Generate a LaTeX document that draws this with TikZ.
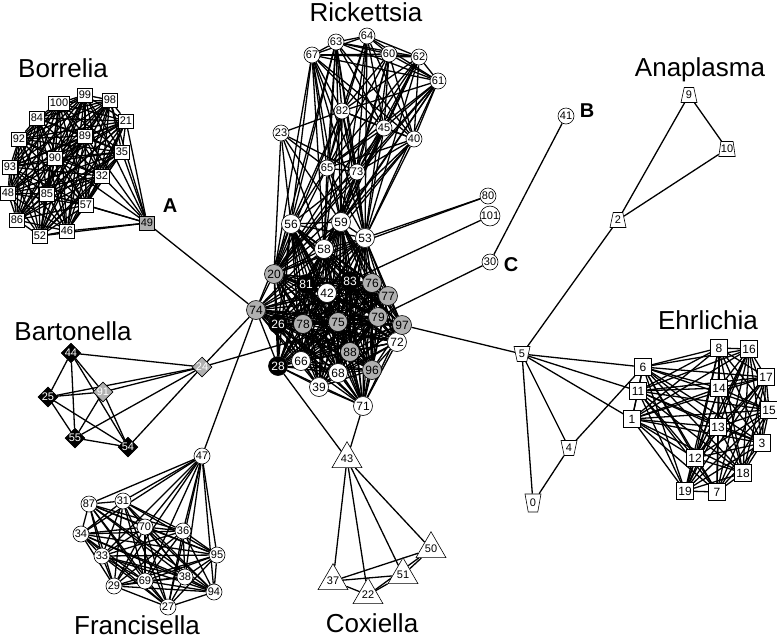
\documentclass[tikz,border=0pt]{standalone}
\usepackage{fontspec}
\setmainfont{Liberation Sans}
\usepackage{tikz}
\definecolor{nodegray}{HTML}{B0B0B0}
\usetikzlibrary{backgrounds, shapes.geometric}

\newcommand{\drawclique}[1]{%
  \foreach \a [count=\i] in #1 {%
    \foreach \b [count=\j] in #1 {%
      \ifnum\j>\i \draw[link] (n\a) -- (n\b);\fi
    }%
  }%
}

\begin{document}
\begin{tikzpicture}[x=1pt, y=-1pt]

  \tikzstyle{nd} = [%
  draw=black,
  line width=0.6pt,
  inner sep=0.5pt,
  font=\fontsize{11}{11}\selectfont,
  ];
  \tikzstyle{sq} = [nd, rectangle, fill=white, minimum width=15pt, minimum height=14pt, inner sep=1.2pt];
  \tikzstyle{cir} = [nd, circle, fill=white, minimum size=16pt, inner sep=0pt];
  \tikzstyle{big} = [cir, minimum size=19pt, font=\fontsize{12}{12}\selectfont];
  \tikzstyle{gry} = [fill=nodegray];
  \tikzstyle{blk} = [fill=black, text=white];
  \tikzstyle{tri} = [nd, regular polygon, regular polygon sides=3, fill=white, minimum size=22pt, inner sep=0pt];
  \tikzstyle{dia} = [nd, diamond, fill=black, text=white, minimum size=19pt, inner sep=0pt];
  \tikzstyle{trap} = [nd, trapezium, trapezium left angle=75, trapezium right angle=75, trapezium stretches=true, fill=white, minimum width=16pt, minimum height=15pt, inner sep=0pt];
  \tikzstyle{trapdown} = [trap, shape border rotate=180];
  \tikzstyle{grp} = [inner sep=0pt, anchor=base, font=\fontsize{26}{26}\selectfont];
  \tikzstyle{tag} = [inner sep=0pt, anchor=base, font=\fontsize{20}{20}\selectfont\bfseries];
  \tikzstyle{link} = [line width=1.3pt];

  \useasboundingbox (0,0) rectangle (777,638);

  % Borrelia
  \foreach \n/\x/\y in {100/59/103, 99/85/95, 98/110/100, 84/37/118, 21/126/121,
    92/19/139, 89/85/136, 35/122/152, 90/55/158, 93/10/167, 32/102/176,
    48/8/193, 85/47/194, 57/86/205, 86/17/220, 46/67/231, 52/40/236}
    \node[sq] (n\n) at (\x,\y) {\n};
  \node[sq, gry] (n49) at (147,223) {49};

  % Rickettsia
  \foreach \n/\x/\y in {64/367/36, 63/336/42, 60/389/54, 62/419/57, 67/312/55,
    61/438/81, 82/342/111, 45/384/128, 23/281/133, 40/414/139, 65/327/168,
    73/357/172}
    \node[cir] (n\n) at (\x,\y) {\n};

  % central group
  \foreach \n/\x/\y in {56/291/224, 59/341/222, 53/365/238, 58/324/249,
    42/327/293, 72/397/342, 66/301/361, 68/338/373, 39/319/387, 71/363/406}
    \node[big] (n\n) at (\x,\y) {\n};
  \foreach \n/\x/\y in {20/274/274, 76/372/283, 77/388/296, 74/256/310,
    79/378/317, 75/338/322, 78/303/324, 97/402/325, 88/350/352, 96/372/370}
    \node[big, gry] (n\n) at (\x,\y) {\n};
  \foreach \n/\x/\y in {81/306/284, 83/350/281, 26/278/324, 28/278/366}
    \node[big, blk] (n\n) at (\x,\y) {\n};

  \foreach \n/\x/\y in {80/488/196, 101/490/216, 30/490/262, 41/566/116}
    \node[cir] (n\n) at (\x,\y) {\n};

  % Anaplasma
  \node[trap] (n9) at (689,95) {9};
  \node[trap] (n10) at (727,149) {10};
  \node[trap] (n2) at (618,220) {2};
  \node[trapdown] (n5) at (522,354) {5};
  \node[trapdown] (n4) at (569,448) {4};
  \node[trapdown, minimum height=18pt] (n0) at (533,503) {0};

  % Ehrlichia
  \foreach \n/\x/\y in {8/719/348, 16/749/349, 6/643/367, 17/766/377,
    11/638/391, 14/719/388, 15/769/410, 1/632/419, 13/718/427, 3/762/443,
    12/695/458, 18/743/473, 19/685/491, 7/717/492}
    \node[sq, minimum size=17pt, font=\fontsize{12}{12}\selectfont] (n\n) at (\x,\y) {\n};

  % Bartonella
  \foreach \n/\x/\y in {44/71/353, 25/48/397, 55/75/438, 54/128/447}
    \node[dia] (n\n) at (\x,\y) {\n};
  \node[dia, gry, text=white] (n91) at (103,392) {91};
  \node[dia, gry, text=white] (n24) at (202,367) {24};

  % Francisella
  \foreach \n/\x/\y in {47/202/456, 87/89/504, 31/123/501, 70/145/527,
    36/183/531, 34/81/534, 95/217/555, 33/102/556, 38/185/577, 69/145/581,
    29/114/586, 94/214/592, 27/168/607}
    \node[cir] (n\n) at (\x,\y) {\n};

  % Coxiella
  \foreach \n/\x/\y in {43/347/459, 50/431/549, 51/403/575, 37/333/581,
    22/368/595}
    \node[tri] (n\n) at (\x,\y) {\n};

  % group labels
  \node[grp] (lbor) at (63,77) {Borrelia};
  \node[grp] (lric) at (366,21) {Rickettsia};
  \node[grp] (lana) at (700,76) {Anaplasma};
  \node[grp] (lehr) at (708,329) {Ehrlichia};
  \node[grp] (lbar) at (73,340) {Bartonella};
  \node[grp] (lfra) at (137,634) {Francisella};
  \node[grp] (lcox) at (372,632) {Coxiella};
  \node[tag] (ta) at (170,212) {A};
  \node[tag] (tb) at (587,117) {B};
  \node[tag] (tc) at (511,271) {C};

  \begin{pgfonlayer}{background}
    \drawclique{{100,99,98,84,21,92,89,35,90,93,32,48,85,57,86,46,52}}
    \foreach \b in {98,21,35,32,57,46,52,89,99,85,90}
      \draw[link] (n49) -- (n\b);

    \drawclique{{64,63,60,62,67,61,82,45,40,65,73}}
    \foreach \b in {82,65,73,56,58,20,59}
      \draw[link] (n23) -- (n\b);
    \foreach \a in {67,63,64,60,62,61,82,45,40,65,73}
      \foreach \b in {59,53}
        \draw[link] (n\a) -- (n\b);
    \foreach \a in {65,73,82,67,63}
      \foreach \b in {56,58,20}
        \draw[link] (n\a) -- (n\b);
    \foreach \a in {40,45,61,62}
      \foreach \b in {58,20}
        \draw[link] (n\a) -- (n\b);

    \drawclique{{56,59,53,58,20,81,83,42,76,77,74,79,75,26,78,97,72,88,28,66,96,68,39,71}}
    \drawclique{{8,16,6,17,11,14,15,1,13,3,12,18,19,7}}
    \drawclique{{47,87,31,70,36,34,95,33,38,69,29,94,27}}
    \drawclique{{43,50,51,37,22}}
    \drawclique{{44,25,91,55,54,24}}

    % links between groups
    \foreach \a/\b in {49/74, 74/24, 74/47, 24/79, 28/43, 71/43, 5/97,
      30/79, 41/30, 80/53, 80/20, 101/83, 2/5, 2/9, 2/10, 9/10,
      5/6, 5/11, 5/1, 5/4, 5/0, 4/0, 4/6}
      \draw[link] (n\a) -- (n\b);
  \end{pgfonlayer}

\end{tikzpicture}
\end{document}
